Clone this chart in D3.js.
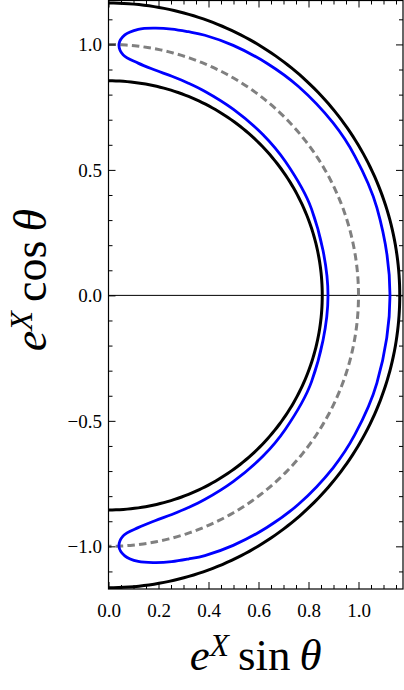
<!DOCTYPE html>
<html>
<head>
<meta charset="utf-8">
<script src="https://cdn.jsdelivr.net/npm/d3@7"></script>
<style>
  html, body { margin: 0; padding: 0; background: #fff; }
  svg { display: block; }
  svg text { font-family: 'Liberation Serif', 'DejaVu Serif', serif; fill: #000; }
</style>
</head>
<body>
<svg id="chart" width="404" height="690"></svg>
<script>
// ---- data ----
const xMajorTicks = [0.0, 0.2, 0.4, 0.6, 0.8, 1.0];
const xTickLabels = ["0.0", "0.2", "0.4", "0.6", "0.8", "1.0"];
const yMajorTicks = [-1.0, -0.5, 0.0, 0.5, 1.0];
const yTickLabels = ["\u22121.0", "\u22120.5", "0.0", "0.5", "1.0"];
const xMinorStep = 0.05;
const yMinorStep = 0.1;

// black bounding circles (radius e^X)
const blackRadii = [0.855, 1.165];
// gray dashed reference circle
const dashedRadius = 1.0;

// blue closed curve, upper half (theta in degrees from +y axis, radius e^X)
const blueTipTheta = 2.4;
const blueTipR = 1.002;
const blueOuterTheta = [3.6, 6.4, 9.9, 13.4, 16.9, 20.4, 26.6, 34.4, 42.4, 52.6, 60.6, 72.0, 90.0];
const blueOuterR     = [1.040, 1.067, 1.081, 1.091, 1.098, 1.106, 1.114, 1.121, 1.127, 1.131, 1.131, 1.129, 1.126];
const blueInnerTheta = [3.5, 7.3, 11.7, 16.2, 20.7, 25.3, 34.0, 44.0, 53.0, 67.0, 90.0];
const blueInnerR     = [0.960, 0.933, 0.917, 0.909, 0.904, 0.900, 0.894, 0.890, 0.886, 0.882, 0.878];

// ---- layout ----
const svg = d3.select("#chart");
const pLeft = 108.5, pRight = 403, pTop = 0.5, pBottom = 589;
const x = d3.scaleLinear().domain([0, 1.178]).range([pLeft, pRight]);
const y = d3.scaleLinear().domain([-1.17, 1.175]).range([pBottom, pTop]);

const defs = svg.append("defs");
defs.append("clipPath").attr("id", "clip")
  .append("rect").attr("x", pLeft).attr("y", pTop)
  .attr("width", pRight - pLeft).attr("height", pBottom - pTop);

const plot = svg.append("g").attr("clip-path", "url(#clip)");

const rad = d => d * Math.PI / 180;
const toXY = (thDeg, r) => [x(r * Math.sin(rad(thDeg))), y(r * Math.cos(rad(thDeg)))];

plot.append("line")
  .attr("x1", pLeft).attr("x2", pRight)
  .attr("y1", y(0)).attr("y2", y(0))
  .attr("stroke", "#000").attr("stroke-width", 1);

const thetaSamples = d3.range(0, 180.01, 1);
const lineGen = d3.line();

blackRadii.forEach(r => {
  plot.append("path")
    .attr("d", lineGen(thetaSamples.map(t => toXY(t, r))))
    .attr("fill", "none").attr("stroke", "#000").attr("stroke-width", 3);
});

plot.append("path")
  .attr("d", lineGen(thetaSamples.map(t => toXY(t, dashedRadius))))
  .attr("fill", "none").attr("stroke", "#808080").attr("stroke-width", 3)
  .attr("stroke-dasharray", "7.5,4.2");

const upperOuter = blueOuterTheta.map((t, i) => [t, blueOuterR[i]]);
const upperInner = blueInnerTheta.map((t, i) => [t, blueInnerR[i]]);
const loop = [];
upperOuter.slice().reverse().forEach(p => loop.push(toXY(p[0], p[1])));
loop.push(toXY(blueTipTheta, blueTipR));
upperInner.forEach(p => loop.push(toXY(p[0], p[1])));
upperInner.slice().reverse().slice(1).forEach(p => loop.push(toXY(180 - p[0], p[1])));
loop.push(toXY(180 - blueTipTheta, blueTipR));
upperOuter.slice(0, -1).forEach(p => loop.push(toXY(180 - p[0], p[1])));

plot.append("path")
  .attr("d", d3.line().curve(d3.curveCatmullRomClosed.alpha(0.5))(loop))
  .attr("fill", "none").attr("stroke", "#0000ff").attr("stroke-width", 2.8)
  .attr("stroke-linejoin", "round");

// ---- axes ----
const xMinor = d3.range(0, 1.1751, xMinorStep).map(v => +v.toFixed(2)).filter(v => !xMajorTicks.some(m => Math.abs(m - v) < 1e-6));
const yMinor = d3.range(-1.1, 1.1001, yMinorStep).map(v => +v.toFixed(2)).filter(v => !yMajorTicks.some(m => Math.abs(m - v) < 1e-6));

const majorLen = 7, minorLen = 4;

function addAxis(gen, transform, ticks, len, labels) {
  const g = svg.append("g").attr("transform", transform)
    .call(gen.tickValues(ticks).tickSizeInner(-len).tickSizeOuter(0)
      .tickFormat(labels ? (d, i) => labels[i] : ""));
  g.attr("font-family", null);
  g.select(".domain").remove();
  g.selectAll(".tick line").attr("stroke", "#000").attr("stroke-width", 1);
  return g;
}

const gxb = addAxis(d3.axisBottom(x), `translate(0,${pBottom})`, xMajorTicks, majorLen, xTickLabels);
gxb.selectAll("text").attr("y", 28).attr("dy", 0).attr("font-size", 19);
addAxis(d3.axisBottom(x), `translate(0,${pBottom})`, xMinor, minorLen, null);
addAxis(d3.axisTop(x), `translate(0,${pTop})`, xMajorTicks, majorLen, null);
addAxis(d3.axisTop(x), `translate(0,${pTop})`, xMinor, minorLen, null);
const gyl = addAxis(d3.axisLeft(y), `translate(${pLeft},0)`, yMajorTicks, majorLen, yTickLabels);
gyl.selectAll("text").attr("x", -6.5).attr("dy", "0.33em").attr("font-size", 19);
addAxis(d3.axisLeft(y), `translate(${pLeft},0)`, yMinor, minorLen, null);
addAxis(d3.axisRight(y), `translate(${pRight},0)`, yMajorTicks, majorLen, null);
addAxis(d3.axisRight(y), `translate(${pRight},0)`, yMinor, minorLen, null);

svg.append("rect")
  .attr("x", pLeft).attr("y", pTop)
  .attr("width", pRight - pLeft).attr("height", pBottom - pTop)
  .attr("fill", "none").attr("stroke", "#000").attr("stroke-width", 1.2);

// ---- axis labels ----
function mathLabel(sel, fn) {
  sel.append("tspan").attr("font-style", "italic").text("e");
  sel.append("tspan").attr("font-style", "italic").attr("font-size", "0.7em").attr("dy", "-0.45em").text("X");
  sel.append("tspan").attr("dy", "0.315em").text("\u2009" + fn + "\u2009");
  sel.append("tspan").attr("font-style", "italic").text("\u03b8");
}

const xl = svg.append("text")
  .attr("x", (pLeft + pRight) / 2).attr("y", 670)
  .attr("text-anchor", "middle").attr("font-size", 45);
mathLabel(xl, "sin");

const yl = svg.append("text")
  .attr("transform", `translate(46,280) rotate(-90)`)
  .attr("text-anchor", "middle").attr("font-size", 46);
mathLabel(yl, "cos");
</script>
</body>
</html>
